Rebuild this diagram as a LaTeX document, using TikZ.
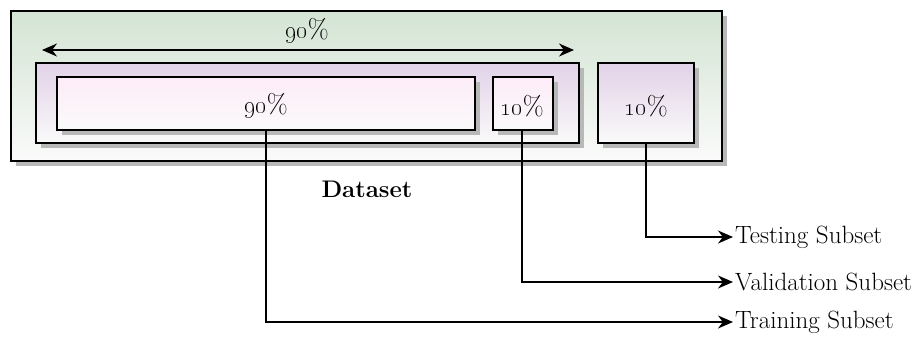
\documentclass[tikz,border=0pt]{standalone}
\usetikzlibrary{arrows.meta,shadows}
\definecolor{outtop}{RGB}{211,228,211}
\definecolor{outbot}{RGB}{250,250,250}
\definecolor{purtop}{RGB}{226,210,232}
\definecolor{purbot}{RGB}{250,250,250}
\definecolor{pintop}{RGB}{253,236,248}
\definecolor{pinbot}{RGB}{250,250,250}
\tikzset{
  box/.style={draw=black,line width=1.5pt,drop shadow={shadow xshift=5pt,shadow yshift=-5pt,fill=black!28,opacity=1}},
  outerbox/.style={box,top color=outtop,bottom color=outbot},
  purbox/.style={box,top color=purtop,bottom color=purbot},
  pinbox/.style={box,top color=pintop,bottom color=pinbot},
  lbl/.style={font=\fontsize{25}{30}\selectfont},
  pct/.style={font=\fontsize{27}{30}\selectfont},
  conn/.style={line width=1.5pt,-{Stealth[length=15pt,width=13pt]}},
}
\begin{document}
\begin{tikzpicture}[x=1pt,y=-1pt]
\useasboundingbox (0,0) rectangle (921,337);
\path[outerbox] (11,11) rectangle (722,161);
\path[purbox] (36,63) rectangle (579,143);
\path[pinbox] (57,77) rectangle (475,130);
\path[pinbox] (493,77) rectangle (553,130);
\path[purbox] (598,63) rectangle (694,143);
\coordinate (al) at (42,50);
\coordinate (ar) at (574,50);
\draw[line width=1.5pt,{Stealth[length=15pt,width=13pt]}-{Stealth[length=15pt,width=13pt]}] (al) -- (ar);
\node[pct] (top) at (307,31) {\oldstylenums{90}\%};
\node[pct] (tr) at (266,106) {\oldstylenums{90}\%};
\node[pct] (va) at (522,106) {\oldstylenums{10}\%};
\node[pct] (te) at (646,106) {\oldstylenums{10}\%};
\node[font=\fontsize{24}{28}\selectfont\bfseries] (ds) at (367,189) {Dataset};
\coordinate (trb) at (266,130);
\coordinate (vab) at (522,130);
\coordinate (teb) at (646,143);
\node[lbl,anchor=west,inner sep=2pt] (tes) at (733,237) {Testing Subset};
\node[lbl,anchor=west,inner sep=2pt] (vas) at (733,282) {Validation Subset};
\node[lbl,anchor=west,inner sep=2pt] (trs) at (733,322) {Training Subset};
\draw[conn] (teb) |- (tes.west);
\draw[conn] (vab) |- (vas.west);
\draw[conn] (trb) |- (trs.west);
\end{tikzpicture}
\end{document}
